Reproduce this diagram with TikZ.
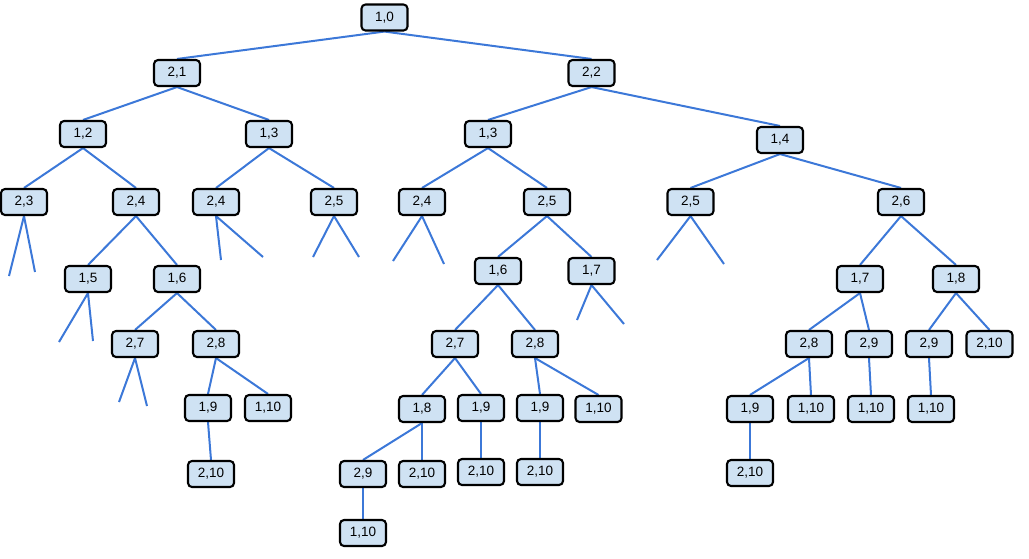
\documentclass[tikz,border=0pt]{standalone}
\usepackage{fontspec}
\setmainfont{Liberation Sans}
\usetikzlibrary{backgrounds}
\definecolor{boxfill}{HTML}{CFE2F3}
\definecolor{linkblue}{HTML}{3C78D8}
\tikzset{
	pair/.style={draw=black,line width=2.1pt,fill=boxfill,rounded corners=4pt,
		minimum width=46pt,minimum height=26pt,inner sep=0pt,font=\fontsize{13.5}{15}\selectfont},
	link/.style={draw=linkblue,line width=2pt}
}
\begin{document}
\begin{tikzpicture}[x=1pt,y=-1pt,line join=round,line cap=round]
	\useasboundingbox (0,0) rectangle (1029,558);
	% the boxes, named by their path from the root
	\foreach \n/\x/\y/\a/\b in {O/384.5/17.5/1/0,
		L/177/73/2/1,R/591.5/73/2/2,
		LL/83/134/1/2,LR/269/134/1/3,RL/488/134/1/3,RR/780/140/1/4,
		LLL/24/202/2/3,LLR/136/202/2/4,LRL/216/202/2/4,LRR/334/202/2/5,
		RLL/422/202/2/4,RLR/547/202/2/5,RRL/690.5/202/2/5,RRR/901/202/2/6,
		LLRL/88/279/1/5,LLRR/177/279/1/6,RLRL/498/271/1/6,RLRR/591.5/271/1/7,
		RRRL/860/279/1/7,RRRR/956/279/1/8,
		LLRRL/135/344/2/7,LLRRR/216/344/2/8,RLRLL/455/344/2/7,RLRLR/535/344/2/8,
		RRRLL/809/344/2/8,RRRLR/869/344/2/9,RRRRL/929/344/2/9,RRRRR/989.5/344/2/10,
		LLRRRL/208/408/1/9,LLRRRR/268/408/1/10,RLRLLL/422/409/1/8,RLRLLR/481/408/1/9,
		RLRLRL/540/408/1/9,RLRLRR/598.5/409/1/10,RRRLLL/750/409/1/9,RRRLLR/811/409/1/10,
		RRRLRL/871/409/1/10,RRRRLL/931/409/1/10,
		LLRRRLL/211/474/2/10,RLRLLLL/363/474/2/9,RLRLLLR/422/474/2/10,
		RLRLLRL/481/472/2/10,RLRLRLL/540/472/2/10,RRRLLLL/750/473/2/10,
		RLRLLLLL/363/533/1/10}
	\node[pair] (\n) at (\x,\y) {\a,\b};
	% loose ends of the cut branches
	\path
	(9,276) coordinate (LLL1) (35,272) coordinate (LLL2)
	(59,342) coordinate (LLRL1) (93,341) coordinate (LLRL2)
	(119,402) coordinate (LLRRL1) (147,406) coordinate (LLRRL2)
	(221,260) coordinate (LRL1) (263,257) coordinate (LRL2)
	(313,257) coordinate (LRR1) (359,257) coordinate (LRR2)
	(393,261) coordinate (RLL1) (444,264) coordinate (RLL2)
	(577,320) coordinate (RLRR1) (624,324) coordinate (RLRR2)
	(657,260) coordinate (RRL1) (724,264) coordinate (RRL2)
	;
	\begin{pgfonlayer}{background}
		\foreach \p/\c in {O/L,O/R,L/LL,L/LR,R/RL,R/RR,
			LL/LLL,LL/LLR,LR/LRL,LR/LRR,RL/RLL,RL/RLR,RR/RRL,RR/RRR,
			LLR/LLRL,LLR/LLRR,RLR/RLRL,RLR/RLRR,RRR/RRRL,RRR/RRRR,
			LLRR/LLRRL,LLRR/LLRRR,RLRL/RLRLL,RLRL/RLRLR,
			RRRL/RRRLL,RRRL/RRRLR,RRRR/RRRRL,RRRR/RRRRR,
			LLRRR/LLRRRL,LLRRR/LLRRRR,RLRLL/RLRLLL,RLRLL/RLRLLR,
			RLRLR/RLRLRL,RLRLR/RLRLRR,RRRLL/RRRLLL,RRRLL/RRRLLR,
			RRRLR/RRRLRL,RRRRL/RRRRLL,
			LLRRRL/LLRRRLL,RLRLLL/RLRLLLL,RLRLLL/RLRLLLR,RLRLLR/RLRLLRL,
			RLRLRL/RLRLRLL,RRRLLL/RRRLLLL,RLRLLLL/RLRLLLLL}
		\draw[link] (\p.south)--(\c.north);
		\foreach \n in {LLL,LLRL,LLRRL,LRL,LRR,RLL,RLRR,RRL}
		\draw[link] (\n1)--(\n.south)--(\n2);
	\end{pgfonlayer}
\end{tikzpicture}
\end{document}
